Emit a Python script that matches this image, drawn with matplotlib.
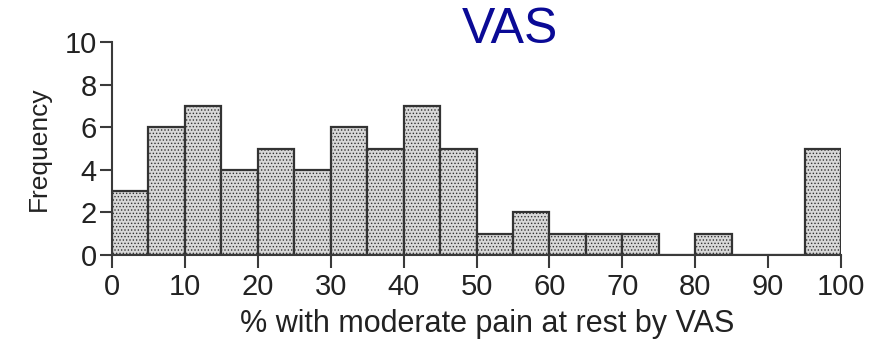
import numpy as np
import matplotlib.pyplot as plt

# histogram bins (width 5) and counts
bin_edges = list(range(0, 105, 5))
counts = [3, 6, 7, 4, 5, 4, 6, 5, 7, 5, 1, 2, 1, 1, 1, 0, 1, 0, 0, 5]
x_ticks = list(range(0, 101, 10))
y_ticks = [0, 2, 4, 6, 8, 10]
title = "VAS"
x_label = "% with moderate pain at rest by VAS"
y_label = "Frequency"

plt.rcParams['font.family'] = ['Liberation Sans', 'DejaVu Sans']
plt.rcParams['hatch.color'] = '#a8a8a8'
plt.rcParams['hatch.linewidth'] = 0.6

fig = plt.figure(figsize=(8.71, 3.39), dpi=100)
ax = fig.add_axes([112/871, 1-255/339, (841-112)/871, (255-42)/339])

lefts = np.array(bin_edges[:-1])
widths = np.diff(bin_edges)
ax.bar(lefts, counts, width=widths, align='edge', color='#d8d8d8',
       edgecolor='#333333', linewidth=1.6, hatch='.....')

ax.set_xlim(0, 100)
ax.set_ylim(0, 10)
ax.set_xticks(x_ticks)
ax.set_yticks(y_ticks)
for s in ['top', 'right']:
    ax.spines[s].set_visible(False)
for s in ['left', 'bottom']:
    ax.spines[s].set_color('#3a3a3a')
    ax.spines[s].set_linewidth(1.5)
ax.tick_params(length=9, width=1.5, color='#3a3a3a', labelsize=21,
               labelcolor='#222222', pad=2)
ax.tick_params(axis='x', pad=4)
ax.set_xlabel(x_label, fontsize=22, color='#222222', labelpad=6)
ax.xaxis.label.set_x((487 - 112) / 729)
ax.set_ylabel(y_label, fontsize=19, color='#222222', labelpad=10)

fig.text(510/871, 1-30/339, title, ha='center', va='center',
         fontsize=36, color='#0a0a96')

fig.savefig('out.png', dpi=100)
